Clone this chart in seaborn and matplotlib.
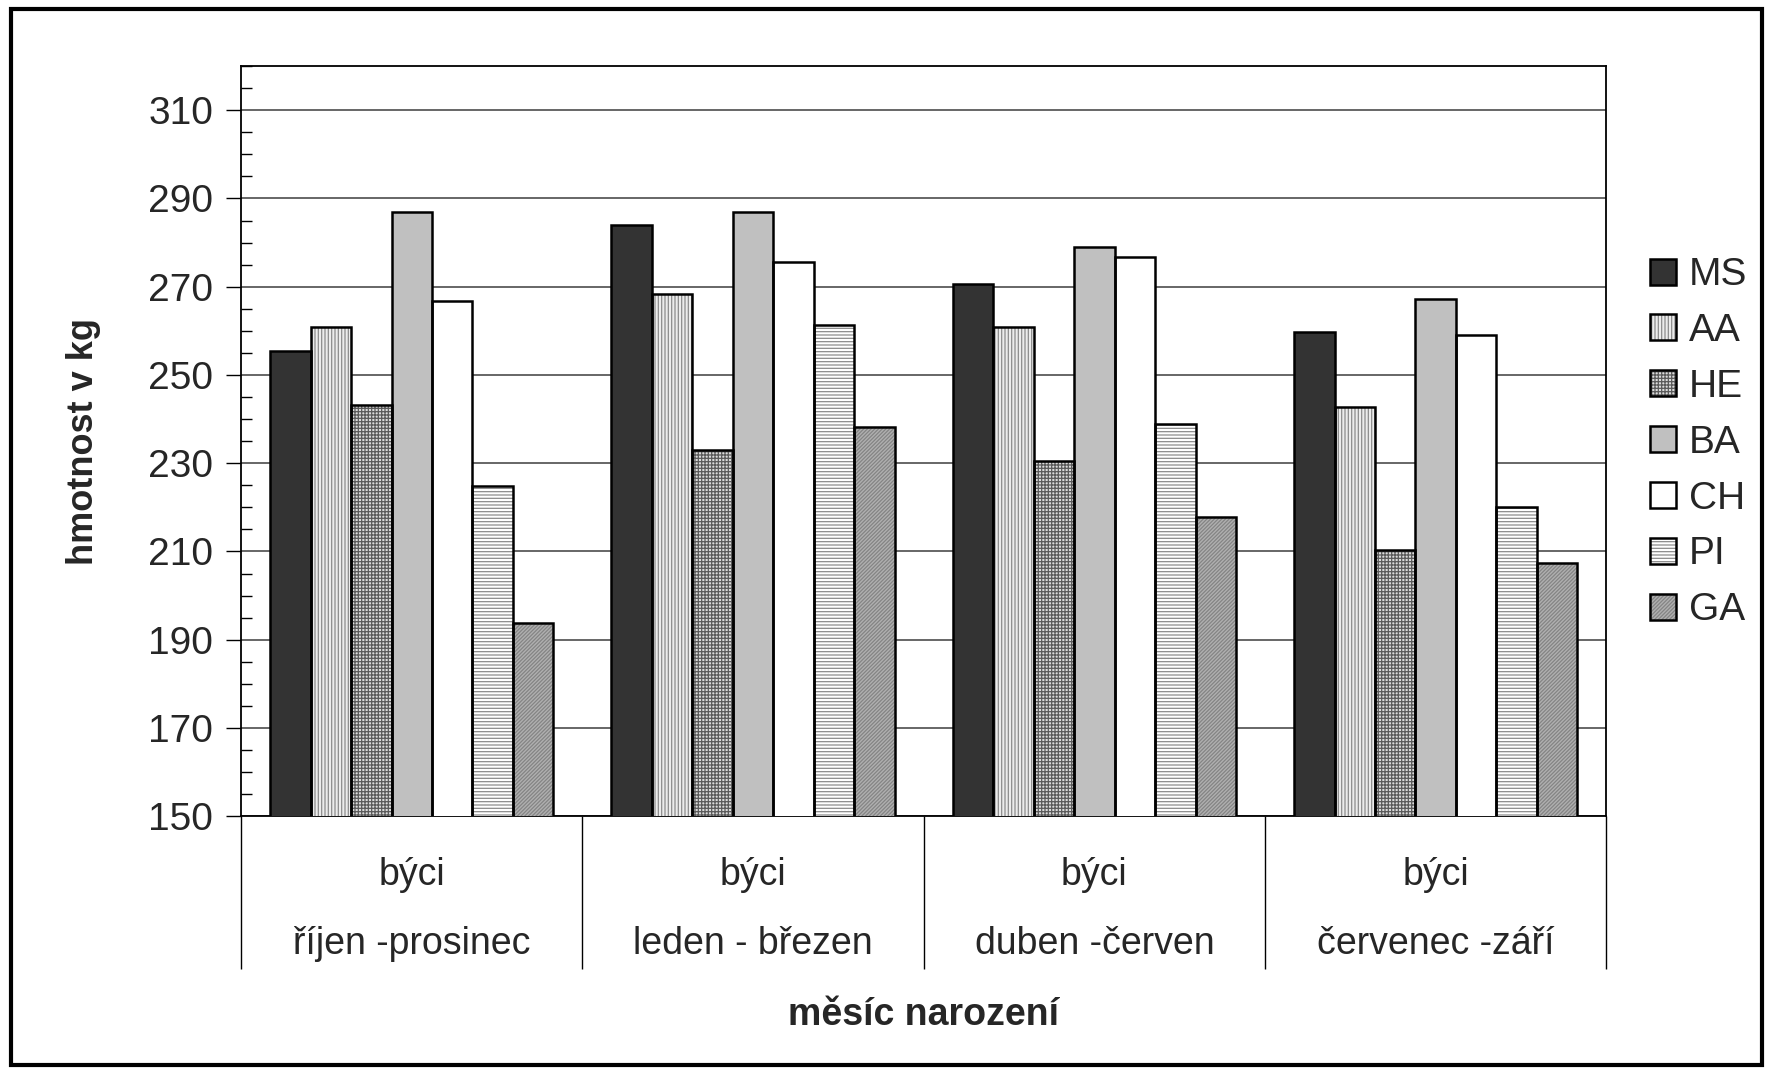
import pandas as pd
import seaborn as sns
import matplotlib.pyplot as plt
from matplotlib.patches import Rectangle
from matplotlib.legend_handler import HandlerTuple

# data
kategorie = ["býci\nříjen -prosinec", "býci\nleden - březen", "býci\nduben -červen", "býci\nčervenec -září"]
plemena = ["MS", "AA", "HE", "BA", "CH", "PI", "GA"]
MS = [255.5, 283.9, 270.6, 259.8]
AA = [260.9, 268.3, 260.9, 242.7]
HE = [243.2, 233.0, 230.6, 210.4]
BA = [287.0, 287.0, 279.0, 267.3]
CH = [266.7, 275.7, 276.7, 259.1]
PI = [224.8, 261.4, 238.8, 220.1]
GA = [193.8, 238.1, 217.8, 207.3]

# fill, hatch, hatch colour per breed
barvy = ["#333333", "#ececec", "#dcdcdc", "#c0c0c0", "#ffffff", "#ffffff", "#b0b0b0"]
srafy = ["", "|" * 5, "+" * 5, "", "", "-" * 5, "/" * 9]
barvy_srafy = ["#333333", "#8c8c8c", "#5a5a5a", "#c0c0c0", "#ffffff", "#8c8c8c", "#848484"]

rows = []
for plemeno, hodnoty in zip(plemena, [MS, AA, HE, BA, CH, PI, GA]):
    for kat, v in zip(kategorie, hodnoty):
        rows.append({"kategorie": kat, "plemeno": plemeno, "hmotnost": v})
df = pd.DataFrame(rows)

sns.set_theme(style="white")
plt.rcParams["font.family"] = ["Liberation Sans", "DejaVu Sans"]
plt.rcParams["hatch.linewidth"] = 0.9

fig = plt.figure(figsize=(17.73, 10.74), dpi=100)
ax = fig.add_axes([0.136, 0.240, 0.770, 0.6985])

# pass 1: fills with hatching (hatch takes the edge colour)
sns.barplot(data=df, x="kategorie", y="hmotnost", hue="plemeno", hue_order=plemena,
            palette=barvy, width=0.83, gap=0, linewidth=0,
            saturation=1, legend=False, ax=ax, zorder=3)
n = len(plemena)
for cont, h, hc in zip(ax.containers[:n], srafy, barvy_srafy):
    for p in cont:
        p.set_hatch(h)
        p.set_edgecolor(hc)
        p.set_linewidth(0)

# pass 2: black outlines
sns.barplot(data=df, x="kategorie", y="hmotnost", hue="plemeno", hue_order=plemena,
            palette=barvy, width=0.83, gap=0, edgecolor="black", linewidth=1.8,
            saturation=1, legend=False, ax=ax, zorder=4)
for cont in ax.containers[n:]:
    for p in cont:
        p.set_facecolor("none")

ax.set_ylim(150, 320)
ax.set_xlim(-0.5, 3.5)
ax.set_yticks(range(150, 311, 20))
ax.set_yticks(range(150, 321, 5), minor=True)
ax.yaxis.grid(True, which="major", color="#4d4d4d", linewidth=1.2, zorder=0)
ax.set_axisbelow(True)
ax.tick_params(axis="y", which="major", direction="out", length=11, width=1, color="black",
               labelsize=28, pad=9, left=True)
ax.tick_params(axis="y", which="minor", direction="in", length=8, width=1, color="black", left=True)

# category separators as long minor ticks below the axis
ax.set_xticks([-0.5, 0.5, 1.5, 2.5, 3.5], minor=True)
ax.tick_params(axis="x", which="minor", direction="out", length=110, width=1, color="black", bottom=True)
ax.tick_params(axis="x", which="major", length=0, labelsize=27, pad=29)
for lbl in ax.get_xticklabels():
    lbl.set_linespacing(2.2)

for s in ax.spines.values():
    s.set_color("black")
    s.set_linewidth(1.3)

ax.set_xlabel("měsíc narození", fontsize=27, fontweight="bold", labelpad=17)
ax.set_ylabel("hmotnost v kg", fontsize=26, fontweight="bold", labelpad=34,
              family=["Liberation Sans Narrow", "Liberation Sans"])

handles = [(a[0], b[0]) for a, b in zip(ax.containers[:n], ax.containers[n:])]
ax.legend(handles=handles, labels=plemena, loc="upper left",
          handler_map={tuple: HandlerTuple(ndivide=1, pad=0)},
          bbox_to_anchor=(0.922, 0.775), bbox_transform=fig.transFigure, frameon=False,
          fontsize=28, handlelength=0.65, handleheight=0.65, handletextpad=0.35, labelspacing=0.51,
          borderaxespad=0)

fig.patches.append(Rectangle((0.006, 0.008), 0.988, 0.984, transform=fig.transFigure,
                             fill=False, edgecolor="black", linewidth=3))

fig.savefig("out.png", dpi=100, facecolor="white")
